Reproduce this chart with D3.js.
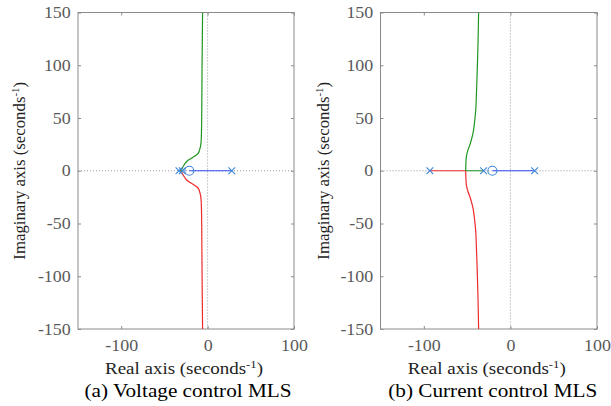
<!DOCTYPE html>
<html>
<head>
<meta charset="utf-8">
<script src="https://cdn.jsdelivr.net/npm/d3@7"></script>
<style>
  body { margin: 0; background: #fff; }
  svg { display: block; }
</style>
</head>
<body>
<svg id="chart" width="611" height="406"></svg>
<script>
// Axis setup shared by both root-locus plots
const xDomain = [-150, 100];
const yDomain = [-150, 150];
const xTicks = [-100, 0, 100];
const yTicks = [-150, -100, -50, 0, 50, 100, 150];

// (a) Voltage control MLS: open-loop poles, zero and locus branches (real, imag)
const vPoles = [-33.1, -29.3, 28];
const vZeros = [-21.2];
const vBlue = [[28, 0], [-21.2, 0]];
const vGreenAxis = [[-33.1, 0], [-31, 0]];
const vGreen = [[-31, 0], [-30, 1.2], [-28, 4.5], [-24.2, 8.8], [-20, 11.2], [-16.6, 13],
  [-12.7, 15.2], [-10.6, 17], [-9.2, 20], [-8.1, 23.5], [-7.4, 29], [-7, 40], [-6.8, 52],
  [-6.6, 75], [-6.4, 100], [-6.1, 125], [-5.8, 150]];
const vRedAxis = [[-29.3, 0], [-31, 0]];
const vRed = [[-31, 0], [-30, -1.2], [-28, -4.5], [-24.2, -8.8], [-20, -11.2], [-16.6, -13],
  [-12.7, -15.2], [-10.6, -17], [-9.2, -20], [-8.1, -23.5], [-7.4, -29], [-7, -40], [-6.8, -52],
  [-6.6, -75], [-6.4, -100], [-6.1, -125], [-5.8, -150]];

// (b) Current control MLS
const cPoles = [-93, -31, 28];
const cZeros = [-20.8];
const cBlue = [[28, 0], [-20.8, 0]];
const cGreenAxis = [[-31, 0], [-51.6, 0]];
const cGreen = [[-51.6, 0], [-51.5, 4], [-50.8, 13.6], [-48.9, 19.9], [-46.1, 26.3],
  [-43.1, 35.8], [-41.5, 45.3], [-40, 57.9], [-39.2, 73.8], [-38.5, 89.5], [-37.4, 121], [-36.7, 150]];
const cRedAxis = [[-93, 0], [-51.6, 0]];
const cRed = [[-51.6, 0], [-51.5, -4], [-50.8, -13.6], [-48.9, -19.9], [-46.1, -26.3],
  [-43.1, -35.8], [-41.5, -45.3], [-40, -57.9], [-39.2, -73.8], [-38.5, -89.5], [-37.4, -121], [-36.7, -150]];

const captions = ["(a) Voltage control MLS", "(b) Current control MLS"];

const COLORS = { green: "#1f961f", red: "#f02a2a", blue: "#2f4cf2", marker: "#3d86d6",
  frame: "#8a8a8a", tick: "#5a5a5a", label: "#222", grid: "#9a9a9a" };

const panels = [
  { left: 78, right: 294, ylabX: 25, caption: captions[0],
    poles: vPoles, zeros: vZeros, blue: vBlue,
    green: vGreen, greenAxis: vGreenAxis, red: vRed, redAxis: vRedAxis, capDx: 2 },
  { left: 380.5, right: 597, ylabX: 329, caption: captions[1],
    poles: cPoles, zeros: cZeros, blue: cBlue,
    green: cGreen, greenAxis: cGreenAxis, red: cRed, redAxis: cRedAxis, capDx: 4 }
];
const plotTop = 12.5, plotBottom = 329;
const fontFamily = "'Liberation Serif', 'Times New Roman', serif";

const svg = d3.select("#chart");

panels.forEach((p, i) => {
  const x = d3.scaleLinear().domain(xDomain).range([p.left, p.right]);
  const y = d3.scaleLinear().domain(yDomain).range([plotBottom, plotTop]);
  const g = svg.append("g");

  const clipId = "clip" + i;
  g.append("clipPath").attr("id", clipId).append("rect")
    .attr("x", p.left).attr("y", plotTop).attr("width", p.right - p.left).attr("height", plotBottom - plotTop);

  // dotted axes through the origin
  g.append("line").attr("x1", p.left).attr("x2", p.right).attr("y1", y(0)).attr("y2", y(0))
    .attr("stroke", COLORS.grid).attr("stroke-width", 1).attr("stroke-dasharray", "1,2");
  g.append("line").attr("x1", x(0)).attr("x2", x(0)).attr("y1", plotTop).attr("y2", plotBottom)
    .attr("stroke", COLORS.grid).attr("stroke-width", 1).attr("stroke-dasharray", "1,2");

  // axes (ticks pointing inward)
  const fmt = d => String(d);
  const axB = g.append("g").attr("transform", `translate(0,${plotBottom})`)
    .call(d3.axisBottom(x).tickValues(xTicks).tickFormat(fmt).tickSizeInner(-3).tickSizeOuter(0).tickPadding(11));
  const axT = g.append("g").attr("transform", `translate(0,${plotTop})`)
    .call(d3.axisTop(x).tickValues(xTicks).tickFormat("").tickSizeInner(-3).tickSizeOuter(0));
  const axL = g.append("g").attr("transform", `translate(${p.left},0)`)
    .call(d3.axisLeft(y).tickValues(yTicks).tickFormat(fmt).tickSizeInner(-3).tickSizeOuter(0).tickPadding(7));
  const axR = g.append("g").attr("transform", `translate(${p.right},0)`)
    .call(d3.axisRight(y).tickValues(yTicks).tickFormat("").tickSizeInner(-3).tickSizeOuter(0));
  [axB, axT, axL, axR].forEach(a => {
    a.select(".domain").remove();
    a.selectAll(".tick line").attr("stroke", COLORS.frame);
    a.selectAll("text").attr("fill", COLORS.tick)
      .style("font-family", fontFamily).style("font-size", "16px");
  });
  axB.selectAll(".tick text").attr("transform", "scale(1.12,1)");
  axL.selectAll(".tick text").attr("transform", "scale(1.12,1)").attr("x", -6.5);

  // frame
  g.append("rect").attr("x", p.left).attr("y", plotTop)
    .attr("width", p.right - p.left).attr("height", plotBottom - plotTop)
    .attr("fill", "none").attr("stroke", COLORS.frame).attr("stroke-width", 1);

  // locus branches
  const plot = g.append("g").attr("clip-path", `url(#${clipId})`);
  const straight = d3.line().x(d => x(d[0])).y(d => y(d[1]));
  const smooth = d3.line().x(d => x(d[0])).y(d => y(d[1])).curve(d3.curveCatmullRom.alpha(0.5));
  const branch = (data, line, color) => plot.append("path").datum(data)
    .attr("d", line).attr("fill", "none").attr("stroke", color).attr("stroke-width", 1.2);
  branch(p.redAxis, straight, COLORS.red);
  branch(p.greenAxis, straight, COLORS.green);
  branch(p.red, smooth, COLORS.red);
  branch(p.green, smooth, COLORS.green);
  branch(p.blue, straight, COLORS.blue);

  // poles (x) and zeros (o)
  const s = 3.4;
  plot.selectAll(".pole").data(p.poles).join("path").attr("class", "pole")
    .attr("d", d => `M${x(d) - s},${y(0) - s}L${x(d) + s},${y(0) + s}M${x(d) - s},${y(0) + s}L${x(d) + s},${y(0) - s}`)
    .attr("stroke", COLORS.marker).attr("stroke-width", 1.1).attr("fill", "none");
  plot.selectAll(".zero").data(p.zeros).join("circle").attr("class", "zero")
    .attr("cx", d => x(d)).attr("cy", y(0)).attr("r", 4.5)
    .attr("stroke", COLORS.marker).attr("stroke-width", 1.1).attr("fill", "none");

  // axis titles
  const cx = (p.left + p.right) / 2;
  const xl = g.append("text")
    .attr("transform", `translate(${cx - 2},374) scale(1.15,1)`)
    .attr("text-anchor", "middle").attr("fill", COLORS.label)
    .style("font-family", fontFamily).style("font-size", "16.5px");
  xl.append("tspan").text("Real axis (seconds");
  xl.append("tspan").attr("dy", -6).style("font-size", "11px").text("-1");
  xl.append("tspan").attr("dy", 6).text(")");

  const yl = g.append("text")
    .attr("transform", `translate(${p.ylabX},${(plotTop + plotBottom) / 2}) rotate(-90)`)
    .attr("text-anchor", "middle").attr("fill", COLORS.label)
    .style("font-family", fontFamily).style("font-size", "16.8px");
  yl.append("tspan").text("Imaginary axis (seconds");
  yl.append("tspan").attr("dy", -6).style("font-size", "11px").text("-1");
  yl.append("tspan").attr("dy", 6).text(")");

  // panel caption
  g.append("text")
    .attr("transform", `translate(${cx + p.capDx},397) scale(1.14,1)`)
    .attr("text-anchor", "middle").attr("fill", "#000")
    .style("font-family", fontFamily).style("font-size", "18.6px")
    .text(p.caption);
});
</script>
</body>
</html>
